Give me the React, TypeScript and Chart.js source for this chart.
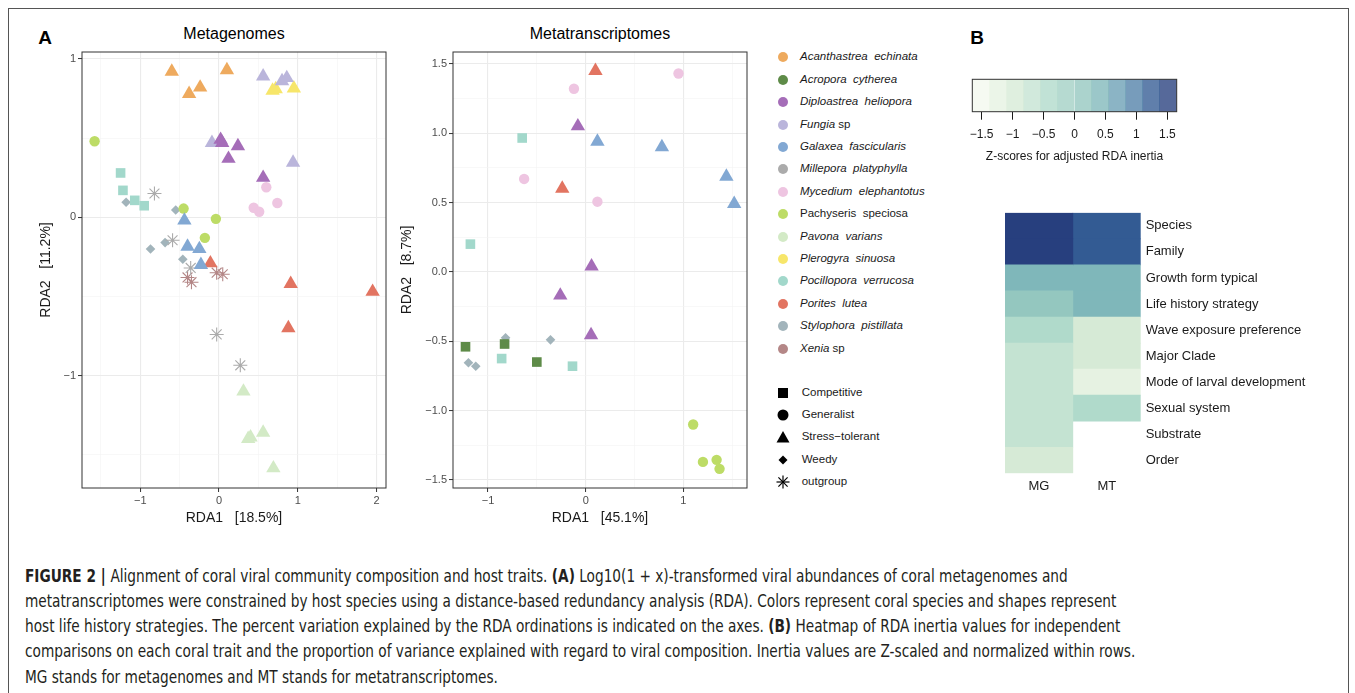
import React, { useEffect, useLayoutEffect, useRef } from 'react';
import { Chart, registerables } from 'chart.js';

Chart.register(...registerables);

const FONT = "'Liberation Sans', Arial, Helvetica, sans-serif";

// ---------------- Data ----------------
const SPECIES = [
  'Acanthastrea echinata', 'Acropora cytherea', 'Diploastrea heliopora', 'Fungia sp',
  'Galaxea fascicularis', 'Millepora platyphylla', 'Mycedium elephantotus', 'Pachyseris speciosa',
  'Pavona varians', 'Plerogyra sinuosa', 'Pocillopora verrucosa', 'Porites lutea',
  'Stylophora pistillata', 'Xenia sp',
];
const SPECIES_COLORS = [
  '#EEAA5E', '#5E8B48', '#A56DB8', '#BAB5DB', '#82A8D3', '#ABABAB', '#EEC5E1',
  '#BDDC66', '#D3EAC6', '#F7E66A', '#A2D8CB', '#E27461', '#A2B4BB', '#B48787',
];
// legend text: [italic part, regular part]
const SPECIES_LEGEND: [string, string][] = [
  ['Acanthastrea  echinata', ''], ['Acropora  cytherea', ''], ['Diploastrea  heliopora', ''],
  ['Fungia', ' sp'], ['Galaxea  fascicularis', ''], ['Millepora  platyphylla', ''],
  ['Mycedium  elephantotus', ''], ['', 'Pachyseris  speciosa'], ['Pavona  varians', ''],
  ['Plerogyra  sinuosa', ''], ['Pocillopora  verrucosa', ''], ['Porites  lutea', ''],
  ['Stylophora  pistillata', ''], ['Xenia', ' sp'],
];
const STRATEGIES = ['Competitive', 'Generalist', 'Stress-tolerant', 'Weedy', 'outgroup'];

// [species, strategy, RDA1, RDA2]
const MG_POINTS: [string, string, number, number][] = [
  ['Acanthastrea echinata', 'Stress-tolerant', -0.60, 0.92],
  ['Acanthastrea echinata', 'Stress-tolerant', -0.38, 0.78],
  ['Acanthastrea echinata', 'Stress-tolerant', -0.24, 0.82],
  ['Acanthastrea echinata', 'Stress-tolerant', 0.10, 0.93],
  ['Fungia sp', 'Stress-tolerant', 0.56, 0.89],
  ['Fungia sp', 'Stress-tolerant', 0.80, 0.86],
  ['Fungia sp', 'Stress-tolerant', 0.86, 0.88],
  ['Fungia sp', 'Stress-tolerant', -0.09, 0.47],
  ['Fungia sp', 'Stress-tolerant', 0.94, 0.345],
  ['Plerogyra sinuosa', 'Stress-tolerant', 0.68, 0.80],
  ['Plerogyra sinuosa', 'Stress-tolerant', 0.72, 0.81],
  ['Plerogyra sinuosa', 'Stress-tolerant', 0.95, 0.815],
  ['Diploastrea heliopora', 'Stress-tolerant', 0.02, 0.49],
  ['Diploastrea heliopora', 'Stress-tolerant', 0.04, 0.47],
  ['Diploastrea heliopora', 'Stress-tolerant', 0.24, 0.45],
  ['Diploastrea heliopora', 'Stress-tolerant', 0.12, 0.37],
  ['Diploastrea heliopora', 'Stress-tolerant', 0.56, 0.25],
  ['Pachyseris speciosa', 'Generalist', -1.58, 0.48],
  ['Pachyseris speciosa', 'Generalist', -0.45, 0.055],
  ['Pachyseris speciosa', 'Generalist', -0.04, -0.01],
  ['Pachyseris speciosa', 'Generalist', -0.18, -0.13],
  ['Mycedium elephantotus', 'Generalist', 0.60, 0.19],
  ['Mycedium elephantotus', 'Generalist', 0.44, 0.06],
  ['Mycedium elephantotus', 'Generalist', 0.51, 0.035],
  ['Mycedium elephantotus', 'Generalist', 0.74, 0.09],
  ['Pocillopora verrucosa', 'Competitive', -1.25, 0.28],
  ['Pocillopora verrucosa', 'Competitive', -1.22, 0.17],
  ['Pocillopora verrucosa', 'Competitive', -1.07, 0.107],
  ['Pocillopora verrucosa', 'Competitive', -0.95, 0.073],
  ['Stylophora pistillata', 'Weedy', -1.18, 0.095],
  ['Stylophora pistillata', 'Weedy', -0.55, 0.046],
  ['Stylophora pistillata', 'Weedy', -0.87, -0.20],
  ['Stylophora pistillata', 'Weedy', -0.685, -0.16],
  ['Stylophora pistillata', 'Weedy', -0.46, -0.265],
  ['Millepora platyphylla', 'outgroup', -0.82, 0.15],
  ['Millepora platyphylla', 'outgroup', -0.59, -0.145],
  ['Millepora platyphylla', 'outgroup', -0.36, -0.32],
  ['Millepora platyphylla', 'outgroup', -0.03, -0.74],
  ['Millepora platyphylla', 'outgroup', 0.27, -0.935],
  ['Xenia sp', 'outgroup', -0.40, -0.38],
  ['Xenia sp', 'outgroup', -0.35, -0.41],
  ['Xenia sp', 'outgroup', -0.03, -0.35],
  ['Xenia sp', 'outgroup', 0.047, -0.36],
  ['Galaxea fascicularis', 'Stress-tolerant', -0.44, -0.02],
  ['Galaxea fascicularis', 'Stress-tolerant', -0.40, -0.185],
  ['Galaxea fascicularis', 'Stress-tolerant', -0.25, -0.20],
  ['Galaxea fascicularis', 'Stress-tolerant', -0.23, -0.30],
  ['Porites lutea', 'Stress-tolerant', -0.11, -0.29],
  ['Porites lutea', 'Stress-tolerant', 0.91, -0.42],
  ['Porites lutea', 'Stress-tolerant', 1.95, -0.47],
  ['Porites lutea', 'Stress-tolerant', 0.88, -0.70],
  ['Pavona varians', 'Stress-tolerant', 0.31, -1.10],
  ['Pavona varians', 'Stress-tolerant', 0.40, -1.39],
  ['Pavona varians', 'Stress-tolerant', 0.37, -1.40],
  ['Pavona varians', 'Stress-tolerant', 0.56, -1.36],
  ['Pavona varians', 'Stress-tolerant', 0.69, -1.585],
];

const MT_POINTS: [string, string, number, number][] = [
  ['Porites lutea', 'Stress-tolerant', 0.10, 1.45],
  ['Porites lutea', 'Stress-tolerant', -0.24, 0.60],
  ['Mycedium elephantotus', 'Generalist', -0.12, 1.32],
  ['Mycedium elephantotus', 'Generalist', 0.95, 1.43],
  ['Mycedium elephantotus', 'Generalist', -0.63, 0.67],
  ['Mycedium elephantotus', 'Generalist', 0.12, 0.506],
  ['Diploastrea heliopora', 'Stress-tolerant', -0.08, 1.05],
  ['Diploastrea heliopora', 'Stress-tolerant', 0.06, 0.04],
  ['Diploastrea heliopora', 'Stress-tolerant', -0.26, -0.17],
  ['Diploastrea heliopora', 'Stress-tolerant', 0.055, -0.456],
  ['Galaxea fascicularis', 'Stress-tolerant', 0.12, 0.94],
  ['Galaxea fascicularis', 'Stress-tolerant', 0.78, 0.90],
  ['Galaxea fascicularis', 'Stress-tolerant', 1.44, 0.687],
  ['Galaxea fascicularis', 'Stress-tolerant', 1.52, 0.49],
  ['Pocillopora verrucosa', 'Competitive', -0.65, 0.965],
  ['Pocillopora verrucosa', 'Competitive', -1.18, 0.20],
  ['Pocillopora verrucosa', 'Competitive', -0.86, -0.625],
  ['Pocillopora verrucosa', 'Competitive', -0.135, -0.68],
  ['Acropora cytherea', 'Competitive', -1.23, -0.54],
  ['Acropora cytherea', 'Competitive', -0.83, -0.52],
  ['Acropora cytherea', 'Competitive', -0.50, -0.65],
  ['Stylophora pistillata', 'Weedy', -0.82, -0.475],
  ['Stylophora pistillata', 'Weedy', -0.36, -0.49],
  ['Stylophora pistillata', 'Weedy', -1.20, -0.655],
  ['Stylophora pistillata', 'Weedy', -1.125, -0.68],
  ['Pachyseris speciosa', 'Generalist', 1.10, -1.10],
  ['Pachyseris speciosa', 'Generalist', 1.20, -1.37],
  ['Pachyseris speciosa', 'Generalist', 1.34, -1.355],
  ['Pachyseris speciosa', 'Generalist', 1.37, -1.42],
];

const MG_X_TICKS = [-1.5, -1, -0.5, 0, 0.5, 1, 1.5, 2];
const MG_Y_TICKS = [-1.5, -1, -0.5, 0, 0.5, 1];
const MT_X_TICKS = [-1, -0.5, 0, 0.5, 1, 1.5];
const MT_Y_TICKS = [-1.5, -1.25, -1, -0.75, -0.5, -0.25, 0, 0.25, 0.5, 0.75, 1, 1.25, 1.5];

// Heatmap (panel B)
const TRAITS = [
  'Species', 'Family', 'Growth form typical', 'Life history strategy', 'Wave exposure preference',
  'Major Clade', 'Mode of larval development', 'Sexual system', 'Substrate', 'Order',
];
const HEAT_COLUMNS = ['MG', 'MT'];
const MG_Z: (number | null)[] = [1.55, 1.55, 0.45, 0.15, -0.4, -0.65, -0.65, -0.68, -0.7, -0.95];
const MT_Z: (number | null)[] = [1.25, 1.25, 0.42, 0.48, -0.95, -0.95, -1.25, -0.42, null, null];
const COLORBAR_LIMITS = [-1.652, 1.652];
const COLORBAR_TICKS = [-1.5, -1, -0.5, 0, 0.5, 1, 1.5];
const HEAT_PALETTE = [
  '#F4F9EE', '#E6F2E2', '#D6EAD6', '#C4E3D2', '#B0DACB', '#A2D0C4',
  '#94C7BF', '#7FB7BA', '#6A9FB5', '#5180A8', '#335B93', '#273F7E',
];

// ---------------- Helpers ----------------
const SHAPE_STYLE: Record<string, string> = {
  'Competitive': 'rect', 'Generalist': 'circle', 'Stress-tolerant': 'triangle', 'Weedy': 'rectRot', 'outgroup': 'star',
};
const SHAPE_RADIUS: Record<string, number> = {
  'Competitive': 6.8, 'Generalist': 5.2, 'Stress-tolerant': 8.3, 'Weedy': 4.8, 'outgroup': 7,
};

const minus = (s: string) => s.replace('-', '\u2212');

function zColor(z: number | null, alpha = 1) {
  if (z == null) return 'rgba(0,0,0,0)';
  const [lo, hi] = COLORBAR_LIMITS;
  const n = HEAT_PALETTE.length;
  let i = Math.floor(((z - lo) / (hi - lo)) * n);
  i = Math.max(0, Math.min(n - 1, i));
  return withAlpha(HEAT_PALETTE[i], alpha);
}
function withAlpha(hex: string, a: number) {
  const r = parseInt(hex.slice(1, 3), 16), g = parseInt(hex.slice(3, 5), 16), b = parseInt(hex.slice(5, 7), 16);
  return `rgba(${r},${g},${b},${a})`;
}

function borderPlugin(color: string, width: number) {
  return {
    id: 'panelBorder',
    afterDraw(chart: any) {
      const { ctx, chartArea } = chart;
      ctx.save();
      ctx.strokeStyle = color;
      ctx.lineWidth = width;
      ctx.strokeRect(chartArea.left, chartArea.top, chartArea.right - chartArea.left, chartArea.bottom - chartArea.top);
      ctx.restore();
    },
  };
}

type ScatterSpec = {
  points: [string, string, number, number][];
  xMin: number; xMax: number; yMin: number; yMax: number;
  xTicks: number[]; yTicks: number[]; xMajor: number; yMajor: number; yDecimals: number; xDecimals: number;
  xTitle: string; yTitle: string;
  yAxisW: number; xAxisH: number; padTop: number; padRight: number; yTitlePad: number;
};

function isMultiple(v: number, step: number) {
  const r = v / step;
  return Math.abs(r - Math.round(r)) < 1e-6;
}

function makeScatter(canvas: HTMLCanvasElement, s: ScatterSpec) {
  const datasets: any[] = [];
  SPECIES.forEach((sp, i) => {
    const pts = s.points.filter((p) => p[0] === sp);
    if (!pts.length) return;
    datasets.push({
      label: sp,
      data: pts.map((p) => ({ x: p[2], y: p[3] })),
      backgroundColor: SPECIES_COLORS[i],
      borderColor: SPECIES_COLORS[i],
      pointStyle: pts.map((p) => SHAPE_STYLE[p[1]]),
      pointRadius: pts.map((p) => SHAPE_RADIUS[p[1]]),
      pointHoverRadius: pts.map((p) => SHAPE_RADIUS[p[1]]),
      pointBorderWidth: pts.map((p) => (p[1] === 'outgroup' ? 1.1 : 0)),
      showLine: false,
    });
  });
  const axis = (ticks: number[], major: number, dec: number, min: number, max: number, title: string, isX: boolean) => ({
    type: 'linear' as const,
    min, max,
    position: isX ? 'bottom' : 'left',
    afterBuildTicks: (sc: any) => { sc.ticks = ticks.map((v) => ({ value: v })); },
    afterFit: (sc: any) => { if (isX) sc.height = s.xAxisH; else sc.width = s.yAxisW; },
    grid: {
      color: (c: any) => (c.tick && isMultiple(c.tick.value, major) ? '#EBEBEB' : '#F3F3F3'),
      lineWidth: (c: any) => (c.tick && isMultiple(c.tick.value, major) ? 1.1 : 0.6),
      tickColor: (c: any) => (c.tick && isMultiple(c.tick.value, major) ? '#333333' : 'rgba(0,0,0,0)'),
      tickLength: 4,
      tickWidth: 1,
      drawTicks: true,
    },
    border: { display: false },
    ticks: {
      autoSkip: false,
      maxRotation: 0,
      padding: 2,
      color: '#4D4D4D',
      font: { size: 11, family: FONT },
      callback: (v: any) => (isMultiple(Number(v), major) ? minus(Number(v).toFixed(dec)) : ''),
    },
    title: {
      display: true,
      text: title,
      color: '#1A1A1A',
      font: { size: 14, family: FONT },
      padding: isX ? { top: 0, bottom: 13 } : { top: s.yTitlePad, bottom: 0 },
    },
  });
  return new Chart(canvas, {
    type: 'scatter',
    data: { datasets },
    options: {
      animation: false,
      responsive: false,
      events: [],
      layout: { padding: { left: 0, top: s.padTop, right: s.padRight, bottom: 0 } },
      plugins: { legend: { display: false }, tooltip: { enabled: false } },
      scales: {
        x: axis(s.xTicks, s.xMajor, s.xDecimals, s.xMin, s.xMax, s.xTitle, true) as any,
        y: axis(s.yTicks, s.yMajor, s.yDecimals, s.yMin, s.yMax, s.yTitle, false) as any,
      },
    },
    plugins: [borderPlugin('#333333', 1)],
  });
}

function makeHeatmap(canvas: HTMLCanvasElement) {
  return new Chart(canvas, {
    type: 'bar',
    data: {
      labels: TRAITS,
      datasets: [
        { label: 'MG', data: MG_Z.map((z) => (z == null ? null : 1)), backgroundColor: MG_Z.map((z) => zColor(z)) },
        { label: 'MT', data: MT_Z.map((z) => (z == null ? null : 1)), backgroundColor: MT_Z.map((z) => zColor(z)) },
      ] as any,
    },
    options: {
      indexAxis: 'y',
      animation: false,
      responsive: false,
      events: [],
      layout: { padding: { left: 10, top: 10, right: 0, bottom: 0 } },
      plugins: { legend: { display: false }, tooltip: { enabled: false } },
      datasets: { bar: { barPercentage: 1, categoryPercentage: 1, borderWidth: 0 } } as any,
      scales: {
        x: {
          type: 'linear', stacked: true, min: 0, max: 2,
          afterBuildTicks: (sc: any) => { sc.ticks = HEAT_COLUMNS.map((_, i) => ({ value: i + 0.5 })); },
          afterFit: (sc: any) => { sc.height = 26.7; },
          grid: { display: false, drawTicks: false },
          border: { display: false },
          ticks: {
            autoSkip: false, maxRotation: 0, padding: 5, color: '#1A1A1A',
            font: { size: 13, family: FONT },
            callback: (_v: any, i: number) => HEAT_COLUMNS[i],
          },
        },
        y: {
          type: 'category', stacked: true, position: 'right',
          afterFit: (sc: any) => { sc.width = 209.3; },
          grid: { display: false, drawTicks: false },
          border: { display: false },
          ticks: { autoSkip: false, padding: 5, color: '#1A1A1A', font: { size: 13, family: FONT } },
        },
      },
    },
  });
}

function makeColorbar(canvas: HTMLCanvasElement) {
  const [lo, hi] = COLORBAR_LIMITS;
  const w = (hi - lo) / HEAT_PALETTE.length;
  return new Chart(canvas, {
    type: 'bar',
    data: {
      labels: [''],
      datasets: HEAT_PALETTE.map((c, i) => ({
        data: [[lo + i * w, lo + (i + 1) * w]],
        backgroundColor: withAlpha(c, 0.78),
        grouped: false,
        barPercentage: 1,
        categoryPercentage: 1,
        borderWidth: 0,
      })) as any,
    },
    options: {
      indexAxis: 'y',
      animation: false,
      responsive: false,
      events: [],
      layout: { padding: { left: 12.3, top: 9.3, right: 13.3, bottom: 0 } },
      plugins: { legend: { display: false }, tooltip: { enabled: false } },
      scales: {
        x: {
          type: 'linear', min: lo, max: hi,
          afterBuildTicks: (sc: any) => { sc.ticks = COLORBAR_TICKS.map((v) => ({ value: v })); },
          afterFit: (sc: any) => { sc.height = 58.3; },
          grid: { drawOnChartArea: false, drawTicks: true, tickLength: 8, tickColor: '#1A1A1A', tickWidth: 1 },
          border: { display: false },
          ticks: {
            autoSkip: false, maxRotation: 0, padding: 8, color: '#1A1A1A',
            font: { size: 12, family: FONT },
            callback: (v: any) => minus(String(v)),
          },
          title: {
            display: true, text: 'Z-scores for adjusted RDA inertia', color: '#1A1A1A',
            font: { size: 12, family: FONT }, padding: { top: 0, bottom: 6 },
          },
        },
        y: { display: false },
      },
    },
    plugins: [borderPlugin('#333333', 1)],
  });
}

// ---------------- Components ----------------
function ChartCanvas({ left, top, width, height, build }: { left: number; top: number; width: number; height: number; build: (c: HTMLCanvasElement) => Chart }) {
  const ref = useRef<HTMLCanvasElement>(null);
  useEffect(() => {
    if (!ref.current) return;
    const ch = build(ref.current);
    return () => ch.destroy();
  }, []);
  return <canvas ref={ref} width={width} height={height} style={{ position: 'absolute', left, top, width, height }} />;
}

function Label({ x, y, children, size = 14, bold = false, align = 'center', style = {} }: any) {
  const tx = align === 'center' ? '-50%' : align === 'right' ? '-100%' : '0';
  return (
    <div style={{
      position: 'absolute', left: x, top: y, transform: `translate(${tx}, -50%)`, fontSize: size,
      fontWeight: bold ? 'bold' : 'normal', whiteSpace: 'pre', lineHeight: 1.2, color: '#000', ...style,
    }}>{children}</div>
  );
}

function ShapeIcon({ kind }: { kind: string }) {
  const c = '#000';
  let el: any = null;
  if (kind === 'Competitive') el = <rect x={2} y={2} width={10} height={10} fill={c} />;
  else if (kind === 'Generalist') el = <circle cx={7} cy={7} r={5.5} fill={c} />;
  else if (kind === 'Stress-tolerant') el = <polygon points="7,1 13.5,12.5 0.5,12.5" fill={c} />;
  else if (kind === 'Weedy') el = <polygon points="7,2.5 11.5,7 7,11.5 2.5,7" fill={c} />;
  else el = (
    <g stroke={c} strokeWidth={1.2}>
      <line x1={7} y1={0.5} x2={7} y2={13.5} />
      <line x1={0.5} y1={7} x2={13.5} y2={7} />
      <line x1={2.4} y1={2.4} x2={11.6} y2={11.6} />
      <line x1={2.4} y1={11.6} x2={11.6} y2={2.4} />
    </g>
  );
  return <svg width={14} height={14} style={{ position: 'absolute', left: -7, top: -7 }}>{el}</svg>;
}

const CAPTION: [string, boolean][][] = [
  [['FIGURE 2 | ', true], ['Alignment of coral viral community composition and host traits. ', false], ['(A)', true], [' Log10(1 + x)-transformed viral abundances of coral metagenomes and', false]],
  [['metatranscriptomes were constrained by host species using a distance-based redundancy analysis (RDA). Colors represent coral species and shapes represent', false]],
  [['host life history strategies. The percent variation explained by the RDA ordinations is indicated on the axes. ', false], ['(B)', true], [' Heatmap of RDA inertia values for independent', false]],
  [['comparisons on each coral trait and the proportion of variance explained with regard to viral composition. Inertia values are Z-scaled and normalized within rows.', false]],
  [['MG stands for metagenomes and MT stands for metatranscriptomes.', false]],
];
const CAPTION_WIDTHS = [1056, 1109, 1061, 1113];

function Caption() {
  const refs = useRef<(HTMLDivElement | null)[]>([]);
  useLayoutEffect(() => {
    const els = refs.current.filter(Boolean) as HTMLDivElement[];
    els.forEach((e) => (e.style.transform = 'none'));
    // one common horizontal scale, from the longest (wrapped) lines
    let ratios: number[] = [];
    CAPTION_WIDTHS.forEach((tw, i) => {
      const w = els[i]?.getBoundingClientRect().width;
      if (w) ratios.push(tw / w);
    });
    const k = ratios.length ? ratios.reduce((a, b) => a + b, 0) / ratios.length : 1;
    els.forEach((e) => (e.style.transform = `scaleX(${k})`));
  }, []);
  return (
    <>
      {CAPTION.map((parts, i) => (
        <div key={i} ref={(el) => { refs.current[i] = el; }} style={{
          position: 'absolute', left: 25, top: 575.7 + 25.2 * i - 11, whiteSpace: 'pre', fontSize: 17, lineHeight: '22px',
          fontFamily: "'Liberation Sans Narrow', 'DejaVu Sans Condensed', 'Liberation Sans', sans-serif",
          color: '#231F20', transformOrigin: '0 0',
        }}>
          {parts.map((p, j) => <span key={j} style={{ fontWeight: p[1] ? 'bold' : 'normal' }}>{p[0]}</span>)}
        </div>
      ))}
    </>
  );
}

export default function App() {
  const mgSpec: ScatterSpec = {
    points: MG_POINTS, xMin: -1.74, xMax: 2.12, yMin: -1.71, yMax: 1.044,
    xTicks: MG_X_TICKS, yTicks: MG_Y_TICKS, xMajor: 1, yMajor: 1, xDecimals: 0, yDecimals: 0,
    xTitle: 'RDA1   [18.5%]', yTitle: 'RDA2   [11.2%]',
    yAxisW: 72, xAxisH: 52, padTop: 12, padRight: 10, yTitlePad: 27.5,
  };
  const mtSpec: ScatterSpec = {
    points: MT_POINTS, xMin: -1.358, xMax: 1.651, yMin: -1.558, yMax: 1.585,
    xTicks: MT_X_TICKS, yTicks: MT_Y_TICKS, xMajor: 1, yMajor: 0.5, xDecimals: 0, yDecimals: 1,
    xTitle: 'RDA1   [45.1%]', yTitle: 'RDA2   [8.7%]',
    yAxisW: 73, xAxisH: 52, padTop: 12, padRight: 10, yTitlePad: 19,
  };
  return (
    <div style={{ position: 'absolute', left: 0, top: 0, width: 1355, height: 693, overflow: 'hidden', background: '#fff', fontFamily: FONT }}>
      <div style={{ position: 'absolute', left: 8, top: 8, width: 1341, height: 760, border: '1px solid #555', boxSizing: 'border-box' }} />

      <Label x={45} y={38} size={19} bold>A</Label>
      <Label x={977} y={38} size={19} bold>B</Label>
      <Label x={234} y={34} size={16}>Metagenomes</Label>
      <Label x={600} y={34} size={16}>Metatranscriptomes</Label>

      <ChartCanvas left={10} top={40} width={386} height={500} build={(c) => makeScatter(c, mgSpec)} />
      <ChartCanvas left={380} top={40} width={377} height={500} build={(c) => makeScatter(c, mtSpec)} />

      {/* species legend */}
      {SPECIES.map((sp, i) => (
        <React.Fragment key={sp}>
          <div style={{ position: 'absolute', left: 783 - 5, top: 57.3 + 22.4 * i - 5, width: 10, height: 10, borderRadius: 5, background: SPECIES_COLORS[i] }} />
          <Label x={800} y={57.3 + 22.4 * i} size={11.5} align="left" style={{ color: '#1A1A1A' }}>
            <span style={{ fontStyle: 'italic' }}>{SPECIES_LEGEND[i][0]}</span>
            <span>{SPECIES_LEGEND[i][1]}</span>
          </Label>
        </React.Fragment>
      ))}

      {/* strategy legend */}
      {STRATEGIES.map((st, i) => (
        <React.Fragment key={st}>
          <div style={{ position: 'absolute', left: 783, top: 392.7 + 22.3 * i }}><ShapeIcon kind={st} /></div>
          <Label x={801.7} y={392.7 + 22.3 * i} size={11.5} align="left" style={{ color: '#1A1A1A' }}>{minus(st)}</Label>
        </React.Fragment>
      ))}

      <ChartCanvas left={960} top={70} width={230} height={100} build={makeColorbar} />
      <ChartCanvas left={995} top={200} width={355} height={300} build={makeHeatmap} />

      <Caption />
    </div>
  );
}
